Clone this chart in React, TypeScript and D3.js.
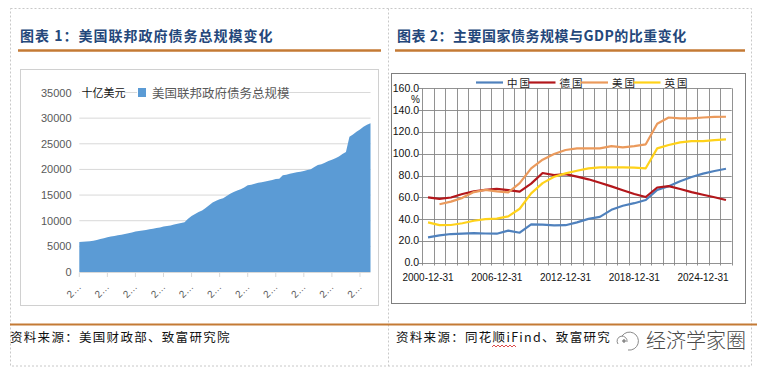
import React from "react";
import * as d3 from "d3";

// 美国联邦政府债务总规模（十亿美元），2001Q1 - 2021Q4，按季度
const debtYears = [2001, 2002, 2003, 2004, 2005, 2006, 2007, 2008, 2009, 2010, 2011,
  2012, 2013, 2014, 2015, 2016, 2017, 2018, 2019, 2020, 2021];
const debtValues = [
  5860, 5880, 5930, 5990,
  6080, 6250, 6420, 6600,
  6800, 6920, 7040, 7160,
  7280, 7420, 7550, 7700,
  7900, 8000, 8090, 8200,
  8330, 8450, 8560, 8700,
  8850, 8950, 9090, 9240,
  9400, 9560, 9700, 10400,
  10900, 11300, 11700, 12000,
  12500, 13000, 13550, 13900,
  14200, 14400, 14800, 15250,
  15600, 15900, 16150, 16500,
  16900, 17000, 17200, 17400,
  17500, 17650, 17770, 17950,
  18150, 18200, 18850, 18950,
  19150, 19300, 19450, 19550,
  19700, 19900, 20050, 20450,
  20850, 21000, 21300, 21620,
  21900, 22200, 22500, 23000,
  23400, 26370, 26800, 27340,
  27800, 28320, 28700, 28980,
];
const debtTicks = [0, 5000, 10000, 15000, 20000, 25000, 30000, 35000];

// 主要国家债务/GDP（%）
const ratioLabels = [
  "2000-12-31", "2001-12-31", "2002-12-31", "2003-12-31", "2004-12-31", "2005-12-31",
  "2006-12-31", "2007-12-31", "2008-12-31", "2009-12-31", "2010-12-31", "2011-12-31",
  "2012-12-31", "2013-12-31", "2014-12-31", "2015-12-31", "2016-12-31", "2017-12-31",
  "2018-12-31", "2019-12-31", "2020-12-31", "2021-12-31", "2022-12-31", "2023-12-31",
  "2024-12-31", "2025-12-31", "2026-12-31",
];
const china = [23.3, 25.0, 26.3, 26.7, 27.2, 26.8, 26.6, 29.4, 27.5, 35.2, 35.0, 34.3, 34.4,
  37.0, 40.2, 42.0, 48.5, 52.2, 54.6, 57.5, 66.8, 70.2, 74.8, 78.6, 81.7, 84.1, 86.2];
const germany = [60.0, 58.6, 59.8, 63.0, 65.4, 66.8, 67.8, 66.5, 65.2, 72.5, 82.3, 80.3, 81.2,
  79.0, 76.5, 73.3, 70.0, 66.5, 63.0, 60.3, 69.0, 70.3, 67.6, 64.8, 62.3, 60.0, 57.5];
const usa = [null, 53.6, 56.0, 59.5, 64.8, 66.8, 65.5, 64.5, 73.0, 86.6, 94.5, 99.7, 103.4,
  104.9, 104.9, 104.9, 107.0, 105.8, 107.0, 108.6, 127.5, 133.2, 132.4, 132.4, 133.2, 133.8, 133.9];
const uk = [37.0, 34.5, 34.6, 36.2, 38.5, 40.0, 40.5, 42.5, 49.5, 63.6, 73.0, 78.9, 82.0,
  84.4, 86.6, 87.5, 87.5, 87.5, 87.2, 86.6, 104.9, 108.0, 110.4, 111.6, 111.6, 112.5, 113.2];
const ratioTicks = [0, 20, 40, 60, 80, 100, 120, 140, 160];
const shownRatioLabels = ["2000-12-31", "2006-12-31", "2012-12-31", "2018-12-31", "2024-12-31"];

const seriesList = [
  { name: "中国", values: china, color: "#4f81bd" },
  { name: "德国", values: germany, color: "#b3171b" },
  { name: "美国", values: usa, color: "#eb9a5c" },
  { name: "英国", values: uk, color: "#ffd21a" },
];

const SANS = "'Liberation Sans', Arial, 'Noto Sans CJK SC', sans-serif";
const CJK = "'Noto Sans CJK SC', sans-serif";
const ORANGE = "#c47a35";
const TITLE = "#24477a";

function DebtChart() {
  const x = d3.scaleLinear().domain([0, debtValues.length - 1]).range([79.3, 370.5]);
  const y = d3.scaleLinear().domain([0, 35000]).range([272, 92.5]);
  const area = d3.area<number>()
    .x((d, i) => x(i))
    .y0(y(0))
    .y1((d) => y(d));
  const xTicks = d3.range(0, debtValues.length, 8);

  return (
    <g>
      <rect x={20.5} y={69.5} width={358} height={236} fill="#fff" stroke="#d0d0d0" />
      {debtTicks.map((t) => (
        <g key={t}>
          {t > 0 && <line x1={79.3} x2={370.5} y1={y(t)} y2={y(t)} stroke="#d9d9d9" />}
          <text x={71.5} y={y(t) + 4} textAnchor="end" fontSize={11} fill="#595959" fontFamily={SANS}>{t}</text>
        </g>
      ))}
      <path d={area(debtValues) ?? ""} fill="#5b9bd5" />
      <line x1={79.3} x2={370.5} y1={272.5} y2={272.5} stroke="#d9d9d9" />
      {xTicks.map((i) => (
        <g key={i}>
          <line x1={x(i)} x2={x(i)} y1={272.5} y2={277} stroke="#d9d9d9" />
          <text transform={`translate(${x(i) - 3},${293}) rotate(-45)`} textAnchor="middle"
            fontSize={10} fill="#595959" fontFamily={SANS}>
            {String(debtYears[Math.floor(i / 4)]).slice(0, 1)}…
          </text>
        </g>
      ))}
      {/* legend */}
      <rect x={80} y={85} width={44} height={14} fill="#fff" />
      <text x={81.5} y={96.5} fontSize={11} fill="#111" fontFamily={CJK}>十亿美元</text>
      <rect x={137} y={86} width={283 - 137 + 2} height={14} fill="#fff" />
      <rect x={138} y={88} width={8} height={9} fill="#5b9bd5" />
      <text x={152} y={97.5} fontSize={12.5} fill="#595959" fontFamily={CJK}>美国联邦政府债务总规模</text>
    </g>
  );
}

function RatioChart() {
  const x = d3.scaleBand<string>().domain(ratioLabels).range([422.3, 731.7]).padding(0);
  const y = d3.scaleLinear().domain([0, 160]).range([262.7, 88.3]);
  const bw = x.bandwidth();
  const line = d3.line<number | null>()
    .defined((d) => d != null)
    .x((d, i) => (x(ratioLabels[i]) ?? 0) + bw / 2)
    .y((d) => y(d as number));
  const boundaries = ratioLabels.map((l) => x(l) ?? 0).concat([731.7]);

  return (
    <g>
      <rect x={391.5} y={73.5} width={354} height={230} fill="#fff" stroke="#7f7f7f" />
      {ratioTicks.map((t) => (
        <g key={t}>
          <line x1={418.5} x2={731.7} y1={Math.round(y(t)) + 0.5} y2={Math.round(y(t)) + 0.5} stroke="#868686" strokeWidth={0.9} />
          <text x={419} y={y(t) + 3.5} textAnchor="end" fontSize={10.5} fill="#111" fontFamily={SANS}>{t.toFixed(1)}</text>
        </g>
      ))}
      {boundaries.map((b, i) => (
        <line key={i} x1={Math.round(b) + 0.5} x2={Math.round(b) + 0.5} y1={88.3} y2={265.5} stroke="#868686" strokeWidth={0.9} />
      ))}
      <text x={420} y={103} textAnchor="end" fontSize={10} fill="#111" fontFamily={SANS}>%</text>
      {shownRatioLabels.map((l) => (
        <text key={l} x={(x(l) ?? 0) + bw / 2} y={281} textAnchor="middle" fontSize={10} fill="#111" fontFamily={SANS}>{l}</text>
      ))}
      {seriesList.map((s) => (
        <path key={s.name} d={line(s.values) ?? ""} fill="none" stroke={s.color} strokeWidth={2.2} strokeLinejoin="round" />
      ))}
      {/* legend */}
      {seriesList.map((s, i) => {
        const lx = 476 + i * 52.5;
        return (
          <g key={s.name}>
            <line x1={lx} x2={lx + 27} y1={82.5} y2={82.5} stroke={s.color} strokeWidth={2.2} />
            <text x={lx + 31} y={86.5} fontSize={10.5} fill="#222" fontFamily={CJK} letterSpacing={2}>{s.name}</text>
          </g>
        );
      })}
    </g>
  );
}

export default function App() {
  return (
    <svg width={763} height={373} style={{ position: "absolute", left: 0, top: 0, background: "#fff" }}>
      {/* panel frames */}
      <rect x={10.5} y={8.5} width={741} height={357.5} fill="none" stroke="#c8c8c8" strokeDasharray="2,2" />
      <line x1={388.5} x2={388.5} y1={8.5} y2={366} stroke="#c8c8c8" strokeDasharray="2,2" />

      <text x={20} y={41} fontSize={14} fontWeight={700} fill={TITLE} fontFamily={CJK} letterSpacing={1.0}>图表 1：美国联邦政府债务总规模变化</text>
      <line x1={18} x2={381} y1={50.5} y2={50.5} stroke={ORANGE} strokeWidth={2.5} />
      <text x={397} y={41} fontSize={14} fontWeight={700} fill={TITLE} fontFamily={CJK} letterSpacing={0.5}>图表 2：主要国家债务规模与GDP的比重变化</text>
      <line x1={395} x2={745} y1={50.5} y2={50.5} stroke={ORANGE} strokeWidth={2.5} />

      <DebtChart />
      <RatioChart />

      {/* footer */}
      <line x1={10} x2={757} y1={324.5} y2={324.5} stroke={ORANGE} strokeWidth={2} />
      <text x={10} y={342} fontSize={12.5} fill="#111" fontFamily={CJK} letterSpacing={1.3}>资料来源：美国财政部、致富研究院</text>
      <text x={396} y={342} fontSize={12.5} fill="#111" fontFamily={CJK} letterSpacing={1.3}>资料来源：同花顺iFind、致富研究</text>
      <path d="M492,347 l2,-2 l2,2 l2,-2 l2,2 l2,-2 l2,2 l2,-2 l2,2 l2,-2 l2,2 l2,-2 l2,2" fill="none" stroke="#d42020" strokeWidth={0.8} />
      {/* watermark */}
      <g fill="none" stroke="#8a8a8a" strokeWidth={1}>
        <path d="M622,336 a9,9 0 1,1 6,14" />
        <path d="M618,344 a5,5 0 1,1 9,-2" />
        <circle cx={624} cy={341} r={1.3} fill="#8a8a8a" />
      </g>
      <text x={646} y={348} fontSize={20} fill="#4a4a4a" fontFamily={CJK} fontWeight={300}>经济学家圈</text>
    </svg>
  );
}
